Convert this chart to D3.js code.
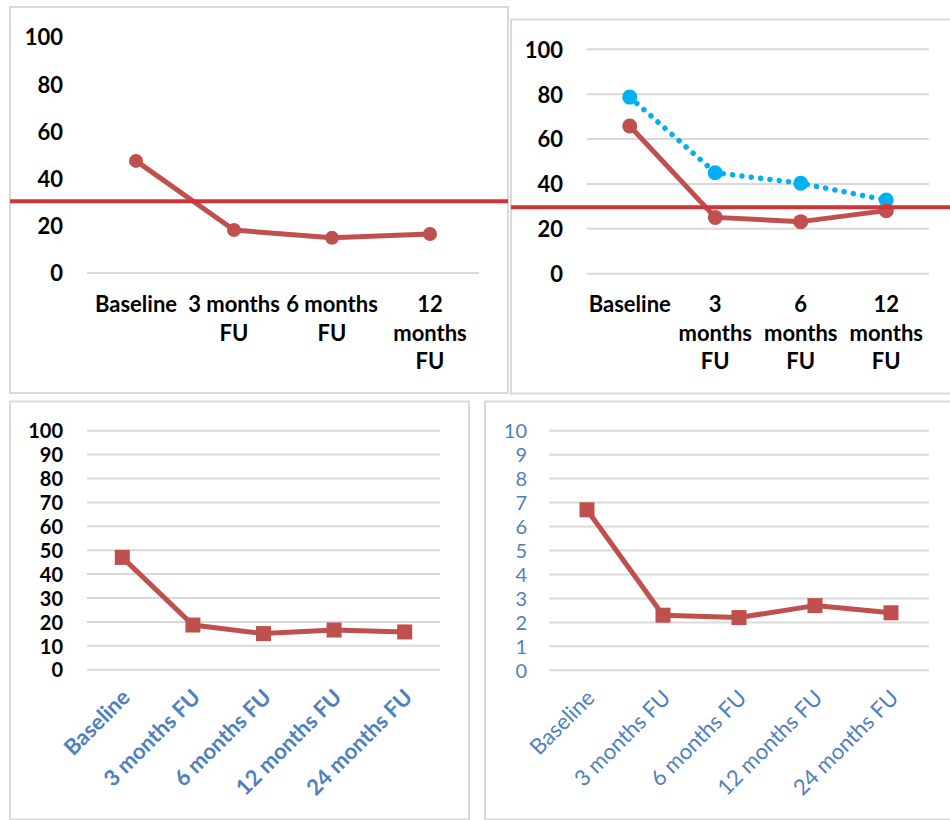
<!DOCTYPE html>
<html>
<head>
<meta charset="utf-8">
<script src="https://cdn.jsdelivr.net/npm/d3@7"></script>
<style>
  html, body { margin: 0; padding: 0; background: #fff; }
  svg { display: block; }
  text { font-family: Lato, "Open Sans", sans-serif; }
</style>
</head>
<body>
<svg id="chart" width="950" height="820"></svg>
<script>
// ---------- DATA ----------
const cats4 = ["Baseline", "3 months FU", "6 months FU", "12 months FU"];
const cats5 = ["Baseline", "3 months FU", "6 months FU", "12 months FU", "24 months FU"];

// wrapped tick labels (top charts)
const p1TickLines = [["Baseline"], ["3 months", "FU"], ["6 months", "FU"], ["12", "months", "FU"]];
const p2TickLines = [["Baseline"], ["3", "months", "FU"], ["6", "months", "FU"], ["12", "months", "FU"]];

const yTicks20 = [0, 20, 40, 60, 80, 100];
const yTicks10 = [0, 10, 20, 30, 40, 50, 60, 70, 80, 90, 100];
const yTicks1 = [0, 1, 2, 3, 4, 5, 6, 7, 8, 9, 10];

const p1Values = [47.5, 18.2, 14.9, 16.5];
const p1Threshold = 30.4;

const p2Red = [65.8, 25.1, 23.2, 28.1];
const p2Blue = [78.7, 45.0, 40.3, 32.8];
const p2Threshold = 29.6;

const p3Values = [47.0, 18.7, 15.1, 16.6, 15.8];
const p4Values = [6.7, 2.3, 2.2, 2.7, 2.4];

// ---------- STYLE ----------
const RED = "#C0504D";
const THRESH = "#D0343A";
const BLUE = "#00B0F0";
const AXBLUE = "#4F81BD";
const GRID = "#D9D9D9";

const svg = d3.select("#chart");

// panel borders
const panels = [
  {x: 10, y: 7, w: 498, h: 386},
  {x: 511, y: 19.5, w: 460, h: 374},
  {x: 10, y: 401.5, w: 459, h: 418},
  {x: 485, y: 401.5, w: 480, h: 418}
];
svg.selectAll("rect.panel").data(panels).join("rect")
  .attr("class", "panel")
  .attr("x", d => d.x).attr("y", d => d.y)
  .attr("width", d => d.w).attr("height", d => d.h)
  .attr("fill", "none").attr("stroke", GRID).attr("stroke-width", 2);

function yAxisLabels(g, y, ticks, xRight, opts) {
  const ax = d3.axisLeft(y).tickValues(ticks).tickSize(0).tickPadding(0);
  const a = g.append("g").attr("transform", `translate(${xRight},0)`).call(ax);
  a.select(".domain").remove();
  a.selectAll("text")
    .attr("font-family", "Lato, 'Open Sans', sans-serif")
    .attr("font-size", opts.size)
    .attr("font-weight", opts.weight)
    .attr("fill", opts.color)
    .attr("dy", "0.36em");
}

function grid(g, y, ticks, x0, x1) {
  g.append("g").selectAll("line").data(ticks).join("line")
    .attr("x1", x0).attr("x2", x1)
    .attr("y1", d => y(d)).attr("y2", d => y(d))
    .attr("stroke", GRID).attr("stroke-width", 2);
}

function wrappedX(g, x, cats, lines, yTop) {
  const t = g.append("g").selectAll("text").data(cats).join("text")
    .attr("text-anchor", "middle")
    .attr("font-size", 22).attr("font-weight", "bold").attr("fill", "#000");
  t.each(function(d, i) {
    d3.select(this).selectAll("tspan").data(lines[i]).join("tspan")
      .attr("x", x(d) + x.bandwidth() / 2)
      .attr("y", (s, j) => yTop + j * 28.7)
      .text(s => s);
  });
}

function rotatedX(g, x, cats, yAxis, opts) {
  g.append("g").selectAll("text").data(cats).join("text")
    .attr("text-anchor", "end")
    .attr("font-size", opts.size).attr("font-weight", opts.weight).attr("fill", AXBLUE)
    .attr("transform", d => `translate(${x(d) + x.bandwidth() / 2 + 9},${yAxis + 29}) rotate(-45)`)
    .text(d => d);
}

function series(g, x, y, cats, vals, color, width, dash) {
  const line = d3.line().x((d, i) => x(cats[i]) + x.bandwidth() / 2).y(d => y(d));
  const p = g.append("path").datum(vals).attr("d", line)
    .attr("fill", "none").attr("stroke", color).attr("stroke-width", width)
    .attr("stroke-linejoin", "round");
  if (dash) p.attr("stroke-dasharray", dash).attr("stroke-linecap", "round");
  return p;
}

function circles(g, x, y, cats, vals, color, r) {
  g.append("g").selectAll("circle").data(vals).join("circle")
    .attr("cx", (d, i) => x(cats[i]) + x.bandwidth() / 2)
    .attr("cy", d => y(d)).attr("r", r).attr("fill", color);
}

function squares(g, x, y, cats, vals, color, s) {
  g.append("g").selectAll("rect").data(vals).join("rect")
    .attr("x", (d, i) => x(cats[i]) + x.bandwidth() / 2 - s / 2)
    .attr("y", d => y(d) - s / 2).attr("width", s).attr("height", s).attr("fill", color);
}

// ---------- PANEL 1 ----------
{
  const g = svg.append("g");
  const x = d3.scaleBand().domain(cats4).range([87, 479]);
  const y = d3.scaleLinear().domain([0, 100]).range([273, 37]);
  grid(g, y, [0], 87, 479);
  yAxisLabels(g, y, yTicks20, 63, {size: 22, weight: "bold", color: "#000"});
  wrappedX(g, x, cats4, p1TickLines, 312);
  series(g, x, y, cats4, p1Values, RED, 5);
  circles(g, x, y, cats4, p1Values, RED, 7);
  g.append("line").attr("x1", 10).attr("x2", 508)
    .attr("y1", y(p1Threshold)).attr("y2", y(p1Threshold))
    .attr("stroke", THRESH).attr("stroke-width", 4);
}

// ---------- PANEL 2 ----------
{
  const g = svg.append("g");
  const x = d3.scaleBand().domain(cats4).range([587, 929]);
  const y = d3.scaleLinear().domain([0, 100]).range([273.7, 49.3]);
  grid(g, y, yTicks20, 587, 929);
  yAxisLabels(g, y, yTicks20, 563, {size: 22, weight: "bold", color: "#000"});
  wrappedX(g, x, cats4, p2TickLines, 312);
  series(g, x, y, cats4, p2Blue, BLUE, 5.5, "0.1 9.3");
  circles(g, x, y, cats4, p2Blue, BLUE, 7.5);
  series(g, x, y, cats4, p2Red, RED, 5);
  circles(g, x, y, cats4, p2Red, RED, 7.5);
  g.append("line").attr("x1", 511).attr("x2", 950)
    .attr("y1", y(p2Threshold)).attr("y2", y(p2Threshold))
    .attr("stroke", THRESH).attr("stroke-width", 4);
}

// ---------- PANEL 3 ----------
{
  const g = svg.append("g");
  const x = d3.scaleBand().domain(cats5).range([87, 440]);
  const y = d3.scaleLinear().domain([0, 100]).range([669.7, 430.7]);
  grid(g, y, yTicks10, 87, 440);
  yAxisLabels(g, y, yTicks10, 63, {size: 20, weight: "bold", color: "#000"});
  rotatedX(g, x, cats5, 669.7, {size: 22, weight: "bold"});
  series(g, x, y, cats5, p3Values, RED, 5);
  squares(g, x, y, cats5, p3Values, RED, 15);
}

// ---------- PANEL 4 ----------
{
  const g = svg.append("g");
  const x = d3.scaleBand().domain(cats5).range([549, 929]);
  const y = d3.scaleLinear().domain([0, 10]).range([670.3, 430.7]);
  grid(g, y, yTicks1, 549, 929);
  yAxisLabels(g, y, yTicks1, 527, {size: 20, weight: "normal", color: AXBLUE});
  rotatedX(g, x, cats5, 670.3, {size: 22, weight: "normal"});
  series(g, x, y, cats5, p4Values, RED, 5);
  squares(g, x, y, cats5, p4Values, RED, 15);
}
</script>
</body>
</html>
